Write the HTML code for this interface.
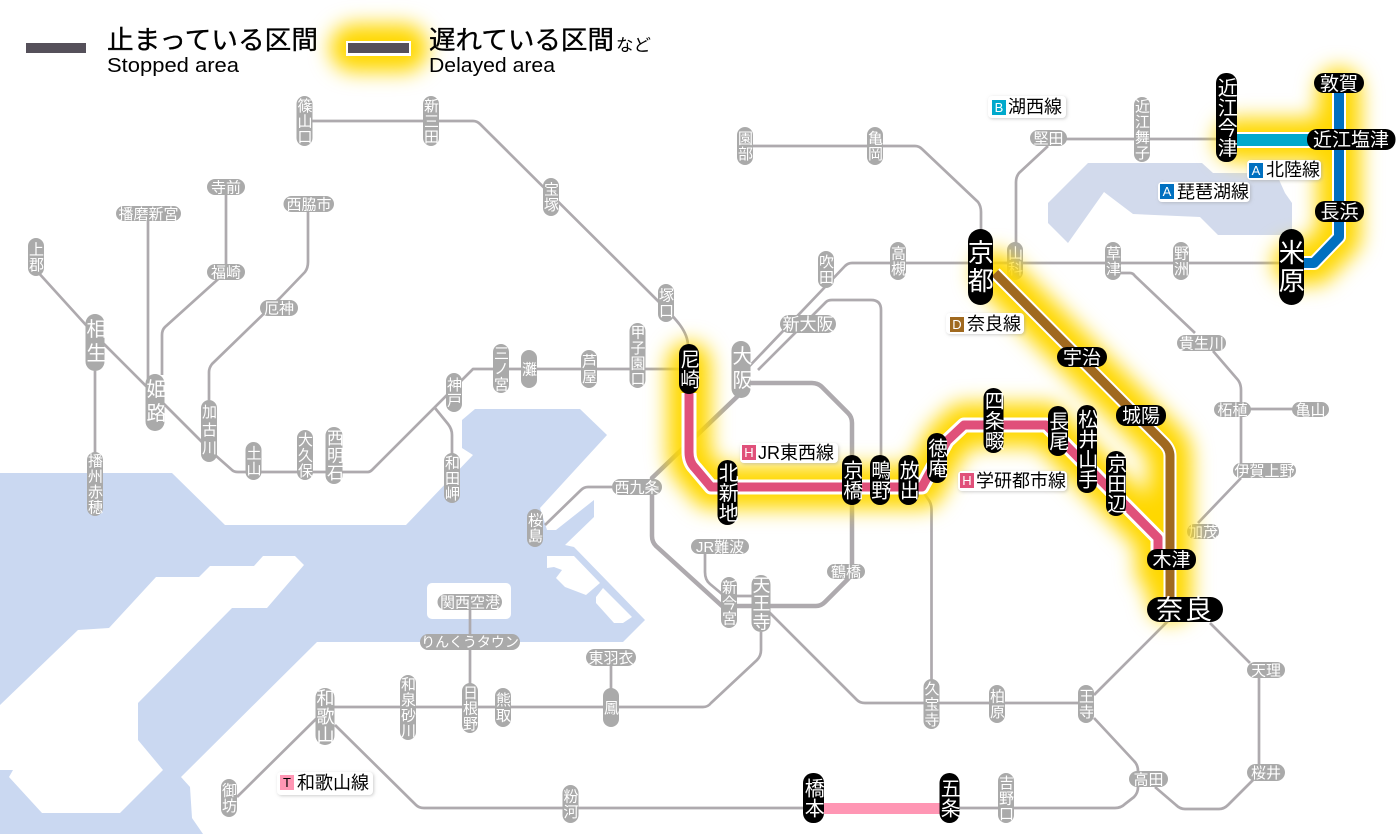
<!DOCTYPE html>
<html lang="ja"><head><meta charset="utf-8"><title>路線図</title>
<style>
html,body{margin:0;padding:0;background:#fff}
svg{display:block}
text{font-family:"Liberation Sans","Noto Sans CJK JP",sans-serif;text-anchor:middle}
.v{writing-mode:vertical-rl}
.gs rect{fill:#aaa}
.gs text{fill:#fff;font-size:15px}
.gs text.n{font-size:14px}
.gs text.v{letter-spacing:.5px;transform:translateX(-.5px)}
.gs text.big{font-size:18px}
.gs text.big2{font-size:20px;letter-spacing:4px;transform:translateX(-1px)}
.bs rect{fill:#000}
.bs text{fill:#fff;font-size:19px}
.bs text.v{font-size:20px;letter-spacing:0;transform:translateX(-1.200px)}
.bs text.xl{font-size:26px;letter-spacing:2px}
.lab text{text-anchor:start;font-size:18px;fill:#000}
.lab text.b{text-anchor:middle;font-size:13px;fill:#fff}
.leg text{text-anchor:start;fill:#000;stroke:#000;stroke-width:.35px}
</style></head><body>
<svg xmlns="http://www.w3.org/2000/svg" width="1400" height="834" viewBox="0 0 1400 834">
<defs>
<filter id="gl" filterUnits="userSpaceOnUse" x="0" y="0" width="1400" height="834"><feGaussianBlur stdDeviation="10"/></filter>
<filter id="sh" x="-10%" y="-20%" width="120%" height="140%"><feDropShadow dx="1" dy="1" stdDeviation="1.500" flood-color="#999" flood-opacity=".5"/></filter>
</defs>
<rect width="1400" height="834" fill="#fff"/>
<!-- water -->
<polygon fill="#cad8f1" points="0,473 172,473 225,525 406,525 473,455 462,448 462,420 475,409 580,409 607,435 540,508 547,530 556,530 594,500 594,517 565,545 574,547 645,620 623,642 317,642 181,777 190,787 192,818 203,834 0,834 0,770 13,770 9,777 42,813 120,813 163,770 138,740 138,703 232,608 267,608 304,565 295,556 263,556 254,566 210,566 199,577 156,577 109,628 78,630 0,705"/>
<polygon fill="#fff" points="547,556 574,556 600,583 586,595 565,587 556,578 562,570 554,567 547,568"/>
<polygon fill="#fff" points="603,588 632,617 623,623 614,623 596,603 596,597"/>
<rect x="427" y="583" width="84" height="36" rx="5" fill="#fff"/>
<polygon fill="#d2daec" points="1088,163 1202,163 1213,173 1276,173 1285,193 1292,203 1292,235 1218,235 1200,217 1133,214 1104,192 1068,243 1048,223 1048,203"/>
<!-- legend -->
<g class="leg">
<rect x="26" y="43" width="60" height="10" fill="#55505a"/>
<text x="107" y="49" font-size="26" textLength="211" lengthAdjust="spacingAndGlyphs">止まっている区間</text>
<text x="107" y="72" font-size="20" textLength="132" lengthAdjust="spacingAndGlyphs" style="stroke-width:0">Stopped area</text>
<line x1="354" y1="48" x2="404" y2="48" stroke="#ffd800" filter="url(#gl)" stroke-linecap="round" style="stroke-width:48px"/>
<rect x="346" y="41" width="65" height="15" fill="#fff" style="stroke-width:0"/>
<rect x="348" y="43" width="61" height="10" fill="#55505a" style="stroke-width:0"/>
<text x="429" y="49" font-size="26" textLength="185" lengthAdjust="spacingAndGlyphs">遅れている区間</text>
<text x="616" y="51" font-size="17" textLength="35" lengthAdjust="spacingAndGlyphs" style="stroke-width:0">など</text>
<text x="429" y="72" font-size="20" textLength="126" lengthAdjust="spacingAndGlyphs" style="stroke-width:0">Delayed area</text>
</g>
<!-- grey lines -->
<g fill="none" stroke="#aeaaae" stroke-width="2.700" stroke-linejoin="round">
<path d="M304,121H473Q477,121 480,124L660,303Q674,317 680,325Q688,336 688,346"/>
<path d="M36,270L95,335L155,395L215,455L232,470Q234,472 238,472H368Q370,472 372,470L473,369H690"/>
<path d="M148,221V380M162,375V335Q162,330 165,327L226,272M226,195V264M209,400V372Q209,368 212,364L280,298L305,272Q308,268 308,262V212"/>
<path d="M95,371V455M435,408L448,424Q452,429 452,435V455"/>
<path d="M745,146H915Q919,146 922,149L978,202Q981,206 981,212V232"/>
<path d="M1048,139H1226M1048,146L1019,173Q1016,177 1016,182V265"/>
<path d="M1292,263H852Q848,263 845,266L741,375"/>
<path d="M758,370L826,302Q828,300 832,300H871Q881,300 881,310V460"/>
<path d="M612,487H588Q584,487 581,490L545,525"/>
<path d="M705,554V572Q705,580 710,584L722,594M729,596H761"/>
<path d="M761,632V650Q761,656 757,660L711,703Q708,707 703,707H325M470,602V690M611,666V690"/>
<path d="M318,717L237,797M335,725L416,805Q419,808 424,808H812M950,808H1115Q1121,808 1125,804L1134,797Q1138,793 1138,787V771Q1138,765 1134,761L1094,718"/>
<path d="M765,608L857,700Q860,703 865,703H1086M1094,695L1168,621M1210,623L1250,663M1259,678V764M1253,780L1228,805Q1224,809 1219,809H1185Q1180,809 1176,805L1155,787"/>
<path d="M931.500,690V510Q931.500,503 928,499L924,493H905"/>
<path d="M1120,273H1130Q1133,273 1135,276L1195,333M1213,351L1238,380Q1241,384 1241,390V463M1233,409H1310M1241,478L1198,523"/>
</g>
<path d="M741,383H812Q818,383 822,387L848,413Q852,417 852,423V570Q852,575 848,579L825,602Q821,606 816,606H722L656,546Q652,542 652,536V478L741,393" fill="none" stroke="#aeaaae" stroke-width="4.500" stroke-linejoin="round"/>
<!-- grey stations -->
<g class="gs">
<rect x="296.500" y="96" width="16" height="50" rx="8"/><text class="v" x="304.500" y="121">篠山口</text>
<rect x="423" y="96" width="16" height="50" rx="8"/><text class="v" x="431" y="121">新三田</text>
<rect x="543" y="178" width="16" height="38" rx="8"/><text class="v" x="551" y="197">宝塚</text>
<rect x="658" y="284" width="16" height="38" rx="8"/><text class="v" x="666" y="303">塚口</text>
<rect x="28" y="238" width="16" height="38" rx="8"/><text class="v" x="36" y="257">上郡</text>
<rect x="85.500" y="314" width="19" height="57" rx="9.500"/><text class="v big2" x="95" y="342.500">相生</text>
<rect x="145.500" y="374" width="19" height="57" rx="9.500"/><text class="v big2" x="155" y="402.500">姫路</text>
<rect x="201" y="400" width="16" height="62" rx="8"/><text class="v" x="209" y="431" style="letter-spacing:3px">加古川</text>
<rect x="446" y="373" width="16" height="39" rx="8"/><text class="v" x="454" y="392.500">神戸</text>
<rect x="493" y="344" width="16" height="49" rx="8"/><text class="v" x="501" y="368.500">三ノ宮</text>
<rect x="521" y="350" width="16" height="38" rx="8"/><text class="v" x="529" y="369">灘</text>
<rect x="581" y="350" width="16" height="38" rx="8"/><text class="v" x="589" y="369">芦屋</text>
<rect x="629.500" y="323" width="16" height="65" rx="8"/><text class="v" x="637.500" y="355.500">甲子園口</text>
<rect x="731.500" y="341" width="19" height="57" rx="9.500"/><text class="v big2" x="741" y="369.500">大阪</text>
<rect x="87" y="452" width="16" height="64" rx="8"/><text class="v" x="95" y="484">播州赤穂</text>
<rect x="245.500" y="442" width="16" height="38" rx="8"/><text class="v" x="253.500" y="461">土山</text>
<rect x="297" y="430" width="16" height="50" rx="8"/><text class="v" x="305" y="455">大久保</text>
<rect x="325.500" y="427" width="17" height="57" rx="8.500"/><text class="v" x="334" y="455.500" style="font-size:17px">西明石</text>
<rect x="444" y="453" width="16" height="50" rx="8"/><text class="v" x="452" y="478">和田岬</text>
<rect x="527" y="509" width="16" height="38" rx="8"/><text class="v" x="535" y="528">桜島</text>
<rect x="721" y="577" width="16" height="51" rx="8"/><text class="v" x="729" y="602.500">新今宮</text>
<rect x="751.500" y="575" width="19" height="57" rx="9.500"/><text class="v big" x="761" y="603.500">天王寺</text>
<rect x="315.500" y="688" width="19" height="57" rx="9.500"/><text class="v big" x="325" y="716.500">和歌山</text>
<rect x="400" y="675" width="16" height="65" rx="8"/><text class="v" x="408" y="707.500">和泉砂川</text>
<rect x="462" y="683" width="16" height="50" rx="8"/><text class="v" x="470" y="708">日根野</text>
<rect x="495" y="688" width="16" height="39" rx="8"/><text class="v" x="503" y="707.500">熊取</text>
<rect x="603" y="688" width="16" height="39" rx="8"/><text class="v" x="611" y="707.500">鳳</text>
<rect x="221" y="779" width="16" height="38" rx="8"/><text class="v" x="229" y="798">御坊</text>
<rect x="562.500" y="785" width="16" height="38" rx="8"/><text class="v" x="570.500" y="804">粉河</text>
<rect x="998" y="773" width="16" height="50" rx="8"/><text class="v" x="1006" y="798">吉野口</text>
<rect x="923.500" y="679" width="16" height="50" rx="8"/><text class="v" x="931.500" y="704">久宝寺</text>
<rect x="989" y="685" width="16" height="38" rx="8"/><text class="v" x="997" y="704">柏原</text>
<rect x="1078" y="685" width="16" height="38" rx="8"/><text class="v" x="1086" y="704">王寺</text>
<rect x="737" y="127" width="16" height="38" rx="8"/><text class="v" x="745" y="146">園部</text>
<rect x="867" y="127" width="16" height="38" rx="8"/><text class="v" x="875" y="146">亀岡</text>
<rect x="1134" y="97" width="16" height="65" rx="8"/><text class="v" x="1142" y="129.500">近江舞子</text>
<rect x="1007" y="242" width="16" height="38" rx="8"/><text class="v" x="1015" y="261">山科</text>
<rect x="818" y="251" width="16" height="37" rx="8"/><text class="v" x="826" y="269.500">吹田</text>
<rect x="890" y="242" width="16" height="38" rx="8"/><text class="v" x="898" y="261">高槻</text>
<rect x="1105" y="242" width="16" height="38" rx="8"/><text class="v" x="1113" y="261">草津</text>
<rect x="1173" y="242" width="16" height="38" rx="8"/><text class="v" x="1181" y="261">野洲</text>

<rect x="207" y="179" width="38" height="16" rx="8"/><text x="226" y="192.500">寺前</text>
<rect x="116" y="206" width="65" height="15" rx="7.500"/><text x="148.500" y="219">播磨新宮</text>
<rect x="283.500" y="196" width="50.500" height="16" rx="8"/><text x="309" y="209.500">西脇市</text>
<rect x="207" y="264" width="38" height="16" rx="8"/><text x="226" y="277.500">福崎</text>
<rect x="260" y="300" width="38" height="16" rx="8"/><text x="279" y="313.500">厄神</text>
<rect x="780" y="315" width="56" height="18" rx="9"/><text x="808" y="330" style="font-size:17px">新大阪</text>
<rect x="1030" y="130" width="37" height="16" rx="8"/><text x="1048.500" y="143.500">堅田</text>
<rect x="1177" y="335" width="49" height="16" rx="8"/><text x="1201.500" y="348.500">貴生川</text>
<rect x="1214" y="402" width="37" height="15" rx="7.500"/><text x="1232.500" y="415">柘植</text>
<rect x="1292" y="402" width="37" height="15" rx="7.500"/><text x="1310.500" y="415">亀山</text>
<rect x="1233" y="463" width="63" height="15" rx="7.500"/><text x="1264.500" y="476">伊賀上野</text>
<rect x="1187" y="524" width="32" height="15" rx="7.500"/><text x="1203" y="537">加茂</text>
<rect x="612" y="479" width="50" height="16" rx="8"/><text x="637" y="492.500">西九条</text>
<rect x="691" y="539" width="58" height="15" rx="7.500"/><text x="720" y="552">JR難波</text>
<rect x="827" y="564" width="38" height="15" rx="7.500"/><text x="846" y="577">鶴橋</text>
<rect x="420" y="634" width="100" height="16" rx="8"/><text class="n" x="470" y="647">りんくうタウン</text>
<rect x="437.500" y="594" width="64.500" height="16" rx="8"/><text x="470" y="607.500">関西空港</text>
<rect x="586" y="649" width="50" height="17" rx="8.500"/><text x="611" y="663">東羽衣</text>
<rect x="1247" y="662" width="38" height="16" rx="8"/><text x="1266" y="675.500">天理</text>
<rect x="1247" y="764" width="38" height="17" rx="8.500"/><text x="1266" y="778">桜井</text>
<rect x="1129" y="771" width="39" height="16" rx="8"/><text x="1148.500" y="784.500">高田</text>
</g>
<!-- glow -->
<g fill="none" stroke="#ffd800" stroke-width="44" stroke-linecap="round" stroke-linejoin="round" filter="url(#gl)">
<path d="M689,364V452Q689,462 695,468L711,487H922L947,441L964,425H1046L1158,538V570"/>
<path d="M995,273L1164,443Q1170,449 1170,456V600"/>
<path d="M1339,90V237L1314,263H1295"/>
<path d="M1237,140H1339"/>
</g>
<!-- coloured lines -->
<g fill="none" stroke-linejoin="round">
<path d="M689,393V452Q689,462 695,468L711,487H922L947,441L964,425H1046L1158,538V560" stroke="#fff" stroke-width="15"/>
<path d="M689,393V452Q689,462 695,468L711,487H922L947,441L964,425H1046L1158,538V560" stroke="#e0507a" stroke-width="9"/>
<path d="M995,273L1164,443Q1170,449 1170,456V600" stroke="#fff" stroke-width="13"/>
<path d="M995,273L1164,443Q1170,449 1170,456V600" stroke="#a0691f" stroke-width="9"/>
<path d="M1339,90V237L1314,263H1295" stroke="#fff" stroke-width="14"/>
<path d="M1339,90V237L1314,263H1295" stroke="#0070c0" stroke-width="10"/>
<path d="M1237,140H1339" stroke="#fff" stroke-width="16"/>
<path d="M1237,140H1339" stroke="#00a9cc" stroke-width="12"/>
<path d="M824,808.500H940" stroke="#ff96b4" stroke-width="11"/>
</g>
<!-- black stations -->
<g class="bs">
<rect x="679" y="344" width="20" height="50" rx="10"/><text class="v" x="689" y="369">尼崎</text>
<rect x="717.500" y="460" width="20" height="65" rx="10"/><text class="v" x="727.500" y="492.500">北新地</text>
<rect x="842" y="455" width="20" height="50" rx="10"/><text class="v" x="852" y="480">京橋</text>
<rect x="870" y="455" width="20" height="50" rx="10"/><text class="v" x="880" y="480">鴫野</text>
<rect x="898.500" y="455" width="20" height="50" rx="10"/><text class="v" x="908.500" y="480">放出</text>
<rect x="927" y="433" width="20" height="50" rx="10"/><text class="v" x="937" y="458">徳庵</text>
<rect x="983.500" y="388" width="20" height="65" rx="10"/><text class="v" x="993.500" y="420.500">四条畷</text>
<rect x="1048" y="406" width="20" height="50" rx="10"/><text class="v" x="1058" y="431">長尾</text>
<rect x="1077" y="405" width="20" height="88" rx="10"/><text class="v" x="1087" y="449">松井山手</text>
<rect x="1106" y="451" width="20" height="65" rx="10"/><text class="v" x="1116" y="483.500">京田辺</text>
<rect x="803" y="773" width="21" height="50" rx="10"/><text class="v" x="813.500" y="798">橋本</text>
<rect x="939.500" y="773" width="20" height="50" rx="10"/><text class="v" x="949.500" y="798">五条</text>
<rect x="1216" y="73" width="21" height="89" rx="10"/><text class="v" x="1226.500" y="117.500">近江今津</text>
<rect x="968" y="229" width="25" height="76" rx="12.500"/><text class="v xl" x="980.500" y="267">京都</text>
<rect x="1279" y="229" width="25" height="76" rx="12.500"/><text class="v xl" x="1291.500" y="267">米原</text>

<rect x="1057" y="347" width="50" height="20" rx="10"/><text x="1082" y="364">宇治</text>
<rect x="1116" y="405" width="50" height="21" rx="10"/><text x="1141" y="422">城陽</text>
<rect x="1147" y="549" width="49" height="21" rx="10"/><text x="1171.500" y="566">木津</text>
<rect x="1147" y="597" width="76" height="25" rx="12.500"/><text x="1185" y="619" style="font-size:27px;letter-spacing:2px">奈良</text>
<rect x="1315" y="201" width="49" height="21" rx="10"/><text x="1339.500" y="218">長浜</text>
<rect x="1314" y="73" width="50" height="20" rx="10"/><text x="1339" y="90">敦賀</text>
<rect x="1307" y="129" width="88.500" height="21" rx="10"/><text x="1351" y="146">近江塩津</text>
</g>
<!-- line labels -->
<g class="lab">
<rect x="988" y="96" width="78" height="22" rx="4" fill="#fff" filter="url(#sh)"/><rect x="992" y="100" width="14" height="15" fill="#00a9cc"/><text class="b" x="999" y="112">B</text><text x="1008" y="113">湖西線</text>
<rect x="1247" y="160" width="74" height="20" rx="4" fill="#fff" filter="url(#sh)"/><rect x="1249" y="163" width="14" height="15" fill="#0070c0"/><text class="b" x="1256" y="175">A</text><text x="1266" y="176">北陸線</text>
<rect x="1158" y="182" width="92" height="20" rx="4" fill="#fff" filter="url(#sh)"/><rect x="1160" y="184" width="14" height="15" fill="#0070c0"/><text class="b" x="1167" y="196">A</text><text x="1177" y="198">琵琶湖線</text>
<rect x="946" y="313" width="78" height="21" rx="4" fill="#fff" filter="url(#sh)"/><rect x="950" y="317" width="14" height="15" fill="#a0691f"/><text class="b" x="957" y="329">D</text><text x="967" y="330">奈良線</text>
<rect x="740" y="443" width="98" height="20" rx="4" fill="#fff" filter="url(#sh)"/><rect x="742" y="445" width="14" height="15" fill="#e0507a"/><text class="b" x="749" y="457">H</text><text x="758" y="459">JR東西線</text>
<rect x="958" y="471" width="109" height="20" rx="4" fill="#fff" filter="url(#sh)"/><rect x="960" y="473" width="14" height="15" fill="#e0507a"/><text class="b" x="967" y="485">H</text><text x="976" y="487">学研都市線</text>
<rect x="277" y="772" width="96" height="23" rx="4" fill="#fff" filter="url(#sh)"/><rect x="280" y="775" width="14" height="15" fill="#ff96b4"/><text class="b" x="287" y="787" style="fill:#000">T</text><text x="297" y="789">和歌山線</text>
</g>
</svg>
</body></html>
